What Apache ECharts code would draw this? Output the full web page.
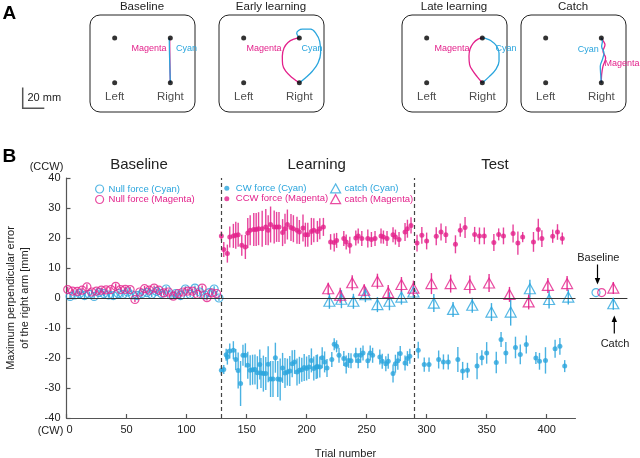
<!DOCTYPE html>
<html><head><meta charset="utf-8">
<script src="https://cdn.jsdelivr.net/npm/echarts@6/dist/echarts.min.js"></script>
<style>html,body{margin:0;padding:0;background:#fff}#c{width:640px;height:458px}</style>
</head><body><div id="c"></div>
<script>
const CYAN = '#2aa5dd', MAG = '#e3218b', INK = '#222', AX = '#555';
const FONT = '"Liberation Sans", Arial, sans-serif';

// ---------- Panel B data (trial, value [mm], error [mm]) ----------
const trialTicks = [0, 50, 100, 150, 200, 250, 300, 350, 400];
const yTicks = [-40, -30, -20, -10, 0, 10, 20, 30, 40];

const baseMagTrial = [1,5,9,13,17,21,25,29,33,37,41,45,49,53,57,61,65,69,73,77,81,85,89,93,97,101,105,109,113,117,121,125];
const baseMagVal = [2.8,2.3,2.2,2.6,3.7,2.0,2.3,2.6,2.7,2.8,3.9,2.8,2.9,2.8,-0.5,2.0,3.1,2.6,3.3,2.6,1.7,2.0,0.6,1.5,2.0,2.3,2.3,1.2,3.3,0.1,1.7,1.5];
const baseCyanTrial = [3,7,11,15,19,23,27,31,35,39,43,47,51,55,59,63,67,71,75,79,83,87,91,95,99,103,107,111,115,119,123,127];
const baseCyanVal = [0.5,1.0,1.5,0.8,1.2,0.5,1.8,1.5,1.0,0.8,1.5,1.2,2.0,1.0,0.8,1.5,1.8,1.2,2.2,1.5,3.0,1.0,1.5,0.8,3.0,1.2,3.3,2.0,1.0,1.8,3.0,0.0];
const baseErr = 0.9;

const magTrial = [129,131,134,136,139,141,143,146,149,151,153,156,158,160,163,166,168,170,173,175,177,180,182,184,187,189,192,194,197,199,201,204,206,209,211,214,
  220,223,225,231,233,236,241,243,246,251,254,257,262,264,267,272,274,277,282,284,287,
  292,296,300,308,312,316,324,328,332,340,344,348,356,360,364,372,376,380,389,393,396,405,409,413];
const magVal = [20.7,16.2,14.8,20.3,20.7,20.9,21.1,17.6,17.0,21.7,22.6,22.8,22.8,23.1,23.1,23.7,22.6,24.5,23.7,23.7,23.7,21.8,23.1,24.5,23.5,23.1,22.6,22.0,23.3,21.1,21.1,22.2,22.6,22.2,23.1,23.7,
  18.7,18.5,19.2,19.8,18.7,17.6,20.0,20.7,19.8,19.8,19.5,19.8,20.7,20.3,19.8,21.1,20.3,19.5,22.0,23.1,24.2,
  18.3,20.9,19.0,20.6,22.0,21.1,17.9,22.6,23.5,21.2,20.7,20.7,18.5,21.2,20.7,21.5,18.3,20.3,18.7,22.8,19.8,20.6,22.0,19.8];
const magErr = [1.5,2.5,3,3.5,4,4.5,4,3.5,4,5,5,5.5,5.5,5.5,6,6,5,6,5.5,5,5,4.5,5,5,4.5,4.5,4.5,4,4.5,4,4,4.5,4,3.5,3.5,3,
  2.6,3,2.5,2.5,2.5,2.8,2.5,2.5,2.5,3,2.5,2.5,2.5,2.2,2.5,2.5,2.5,2.5,3,3,2.7,
  2.8,2.8,2.8,3,2.8,2.8,3,2.2,3.5,2.5,2.8,2.8,2.8,2,2.8,3,3.9,1.7,3.3,3.6,2.8,2.2,2.6,2];

const cyanTrial = [129,131,133,134,136,139,141,143,145,147,149,151,153,155,157,159,161,162,164,166,168,170,172,174,176,178,180,182,184,186,188,190,192,194,196,198,200,202,204,206,208,209,211,213,215,217,
  221,223,225,227,231,233,235,237,241,243,245,247,251,253,255,261,263,266,268,272,274,276,278,282,284,286,
  293,298,302,310,314,318,326,330,334,342,346,350,358,362,366,374,378,383,391,394,399,407,411,415];
const cyanVal = [-24.1,-23.8,-18.9,-19.7,-17.7,-17.4,-20.5,-24.2,-28.5,-19.1,-19.1,-22.4,-24.1,-23.9,-23.8,-24.9,-22.2,-25.0,-25.2,-25.2,-22.1,-27.0,-27.0,-19.9,-27.0,-27.2,-23.3,-25.0,-24.7,-24.3,-21.9,-21.3,-24.7,-24.1,-23.9,-23.2,-23.5,-23.0,-20.8,-23.5,-23.0,-22.8,-23.0,-19.9,-21.3,-23.3,
  -20.5,-15.4,-16.1,-19.1,-20.2,-22.2,-20.8,-20.9,-19.1,-20.9,-19.1,-18.3,-20.9,-18.3,-19.1,-19.7,-21.1,-21.9,-21.1,-25.2,-21.9,-20.9,-18.5,-21.7,-20.2,-19.4,
  -17.4,-22.2,-22.2,-20.5,-21.3,-21.3,-20.5,-24.3,-24.1,-22.7,-19.9,-18.3,-21.5,-13.8,-18.3,-16.5,-18.8,-15.5,-20.0,-21.1,-20.8,-16.9,-16.1,-22.7];
const cyanErr = [1.5,1.5,2,2.5,2.5,3,3.5,6,7.5,3.5,4,4.5,5,5,5,5.5,5,5,6,5.5,6,6,6,5,6,7,5,5,4.5,5,4.5,4,4.5,4.5,4,4.5,4,4,4,4,4,4,3.5,3.5,3.5,3,
  2.5,2,2,2.5,2.5,3,2.5,2.5,2.5,2.5,2.5,2.5,2.5,2.5,2.5,2.5,2.5,2.5,2.5,3,3,3,2.5,2.5,2.5,2.5,
  2.8,2.4,2.4,3,2.5,2.5,4.2,3,2.5,4.4,2.5,3.6,3.6,2.5,3.6,3.6,3.3,3,2,2.8,4.4,3,2.8,2];

const catchMagTrial = [218,228,238,248,259,268,279,289,304,320,336,352,369,385,401,417];
const catchMagVal = [3.1,0.9,5.1,2.6,5.6,1.8,4.5,3.3,4.8,4.8,4.5,5.0,1.2,-1.3,4.2,4.8];
const catchMagErr = [2,2.5,2.5,2,2.5,2.5,2.5,2.5,3.5,3,3,3,2.5,2.5,2.5,2.5];
const catchCyanTrial = [219,229,239,249,259,269,279,289,306,322,338,354,370,386,402,418];
const catchCyanVal = [-1.1,-0.4,-1.1,1.1,-2.2,-1.1,0.3,2.0,-1.7,-3.8,-2.4,-4.7,-4.7,3.1,-0.5,0.3];
const catchCyanErr = [2.5,3,2.5,2.5,2.5,3,2.5,2,3,2.5,2.5,3,4.5,3,3,2.5];

// summary panel (right): Baseline circles and Catch triangles
const sumSlot = ['Baseline cyan', 'Baseline magenta', 'Catch'];
const sumSlotX = [6, 11.7, 23.3];
const sumBaseCyan = 1.8, sumBaseMag = 1.8, sumCatchMag = 3.3, sumCatchCyan = -1.9;
const sumCatchErr = 2;

// ---------- Panel A data (mm; right-bottom target at origin) ----------
const targetX = [-53, -53, 0, 0];
const targetY = [0, 43, 0, 43];
const targetName = ['Left', '', 'Right', ''];
const panelTitles = ['Baseline', 'Early learning', 'Late learning', 'Catch'];
const trajMag = [
  [[0,0],[-0.3,14],[-0.5,29],[-0.6,43]],
  [[0,0],[-6.7,4.8],[-13,11.1],[-15.9,17.5],[-16.2,25.4],[-14.6,33.3],[-10.8,38.7],[-5.1,41.9],[0,43]],
  [[0,0],[-4.8,5.7],[-9.5,12.1],[-12.1,17.5],[-12.7,25.4],[-11.7,32.4],[-8.6,38.1],[-4.1,41.9],[0,43]],
  [[0,0],[0.3,7.9],[1.6,15.9],[4.1,23.8],[1.6,30.2],[3.5,36.5],[1.6,40.6],[0,43]]
];
const trajCyan = [
  [[0,0],[-0.4,14],[-0.8,29],[-1,43]],
  [[0,0],[6,4.8],[12.4,11.1],[17.8,19],[20.3,28.6],[19.4,39.7],[15.6,47.6],[10.8,51.4],[2.9,51.4],[-2.5,47.6],[0,43]],
  [[0,0],[6.3,5.7],[12.7,12.7],[15.9,20.6],[15.9,28.6],[13.3,35.6],[7.9,40.6],[3.2,42.5],[0,43]],
  [[0,0],[-0.6,7.9],[-1,15.9],[1,22.2],[2.5,28.6],[0.3,34.9],[1,39.7],[0,43]]
];

// ---------- layout ----------
const MAIN = {left: 66.5, top: 178, width: 509, height: 240, outerBoundsMode: 'none'};
const MINI = {left: 590, top: 178, width: 37, height: 240, outerBoundsMode: 'none'};
const PANEL_LEFT = [90, 219, 402, 521];
const PANEL = {top: 15, width: 105, height: 97};

function zip(xs, ys, es) { return xs.map((x, i) => es === undefined ? [x, ys[i]] : [x, ys[i], Array.isArray(es) ? es[i] : es]); }

function errBars(name, data, color, xi, yi, opacity) {
  return {
    type: 'custom', name: name, xAxisIndex: xi, yAxisIndex: yi, silent: true, z: 2,
    data: data, encode: {x: 0, y: 1},
    renderItem: function (params, api) {
      const x = api.value(0), y = api.value(1), e = api.value(2);
      const a = api.coord([x, y - e]), b = api.coord([x, y + e]);
      return {type: 'line', shape: {x1: a[0], y1: a[1], x2: b[0], y2: b[1]},
        style: {stroke: color, lineWidth: 1.4, opacity: opacity}};
    }
  };
}

const grids = [MAIN, MINI].concat(PANEL_LEFT.map(l => ({left: l, top: PANEL.top, width: PANEL.width, height: PANEL.height, outerBoundsMode: 'none'})));

const xAxes = [
  {gridIndex: 0, type: 'value', min: 0, max: 424,
   axisLine: {show: true, onZero: false, lineStyle: {color: AX, width: 1.2}},
   axisTick: {show: true, inside: true, length: 4, customValues: trialTicks, lineStyle: {color: AX, width: 1.2}},
   axisLabel: {customValues: trialTicks, fontSize: 11, color: INK, margin: 6, alignMinLabel: 'left'},
   splitLine: {show: false},
   name: 'Trial number', nameLocation: 'middle', nameGap: 30,
   nameTextStyle: {fontSize: 11, color: INK, padding: [0, 0, 0, 49]}},
  {gridIndex: 1, type: 'value', min: 0, max: 37,
   axisLine: {show: true, onZero: true, lineStyle: {color: '#333', width: 1}},
   axisTick: {show: false}, axisLabel: {show: false}, splitLine: {show: false}}
].concat(PANEL_LEFT.map((l, i) => ({gridIndex: i + 2, type: 'value', min: -76.5, max: 23.5, show: false})));

const yAxes = [
  {gridIndex: 0, type: 'value', min: -40, max: 40, interval: 10,
   axisLine: {show: true, onZero: false, lineStyle: {color: AX, width: 1.2}},
   axisTick: {show: true, inside: true, length: 4, lineStyle: {color: AX, width: 1.2}},
   axisLabel: {fontSize: 11, color: INK, margin: 6},
   splitLine: {show: false},
   name: 'Maximum perpendicular error\nof the right arm [mm]', nameLocation: 'middle', nameGap: 35,
   nameTextStyle: {fontSize: 11, color: INK, lineHeight: 14}},
  {gridIndex: 1, type: 'value', min: -40, max: 40, show: false}
].concat(PANEL_LEFT.map((l, i) => ({gridIndex: i + 2, type: 'value', min: -28, max: 65, show: false})));

const openCircle = c => ({color: 'rgba(255,255,255,0)', borderColor: c, borderWidth: 1.2});
const openTri = c => ({color: 'rgba(255,255,255,0)', borderColor: c, borderWidth: 1.2});

const series = [
  errBars('eb-bc', zip(baseCyanTrial, baseCyanVal, baseErr), CYAN, 0, 0, 0.9),
  {type: 'scatter', name: 'Null force (Cyan)', xAxisIndex: 0, yAxisIndex: 0, symbol: 'circle', symbolSize: 8,
   itemStyle: openCircle(CYAN), data: zip(baseCyanTrial, baseCyanVal), z: 3,
   markLine: {silent: true, symbol: 'none', label: {show: false}, animation: false,
     data: [{yAxis: 0, lineStyle: {color: '#333', width: 1, type: 'solid'}},
            {xAxis: 128.5, lineStyle: {color: '#444', width: 1.2, type: [4, 3]}},
            {xAxis: 289.5, lineStyle: {color: '#444', width: 1.2, type: [4, 3]}}]}},
  errBars('eb-bm', zip(baseMagTrial, baseMagVal, baseErr), MAG, 0, 0, 0.9),
  {type: 'scatter', name: 'Null force (Magenta)', xAxisIndex: 0, yAxisIndex: 0, symbol: 'circle', symbolSize: 8,
   itemStyle: openCircle(MAG), data: zip(baseMagTrial, baseMagVal), z: 3},
  errBars('eb-c', zip(cyanTrial, cyanVal, cyanErr), CYAN, 0, 0, 0.85),
  {type: 'scatter', name: 'CW force (Cyan)', xAxisIndex: 0, yAxisIndex: 0, symbol: 'circle', symbolSize: 5,
   itemStyle: {color: CYAN}, data: zip(cyanTrial, cyanVal), z: 3},
  errBars('eb-m', zip(magTrial, magVal, magErr), MAG, 0, 0, 0.85),
  {type: 'scatter', name: 'CCW force (Magenta)', xAxisIndex: 0, yAxisIndex: 0, symbol: 'circle', symbolSize: 5,
   itemStyle: {color: MAG}, data: zip(magTrial, magVal), z: 3},
  errBars('eb-cc', zip(catchCyanTrial, catchCyanVal, catchCyanErr), CYAN, 0, 0, 0.9),
  {type: 'scatter', name: 'catch (Cyan)', xAxisIndex: 0, yAxisIndex: 0, symbol: 'triangle', symbolSize: [11, 10],
   itemStyle: openTri(CYAN), data: zip(catchCyanTrial, catchCyanVal), z: 3},
  errBars('eb-cm', zip(catchMagTrial, catchMagVal, catchMagErr), MAG, 0, 0, 0.9),
  {type: 'scatter', name: 'catch (Magenta)', xAxisIndex: 0, yAxisIndex: 0, symbol: 'triangle', symbolSize: [11, 10],
   itemStyle: openTri(MAG), data: zip(catchMagTrial, catchMagVal), z: 3},
  // summary panel
  {type: 'scatter', name: 'sum-base-cyan', xAxisIndex: 1, yAxisIndex: 1, symbol: 'circle', symbolSize: 8,
   itemStyle: openCircle(CYAN), data: [[sumSlotX[0], sumBaseCyan]]},
  {type: 'scatter', name: 'sum-base-mag', xAxisIndex: 1, yAxisIndex: 1, symbol: 'circle', symbolSize: 8,
   itemStyle: openCircle(MAG), data: [[sumSlotX[1], sumBaseMag]]},
  errBars('eb-sm', [[sumSlotX[2], sumCatchMag, sumCatchErr]], MAG, 1, 1, 0.9),
  errBars('eb-sc', [[sumSlotX[2], sumCatchCyan, sumCatchErr]], CYAN, 1, 1, 0.9),
  {type: 'scatter', name: 'sum-catch-mag', xAxisIndex: 1, yAxisIndex: 1, symbol: 'triangle', symbolSize: [11, 10],
   itemStyle: openTri(MAG), data: [[sumSlotX[2], sumCatchMag]]},
  {type: 'scatter', name: 'sum-catch-cyan', xAxisIndex: 1, yAxisIndex: 1, symbol: 'triangle', symbolSize: [11, 10],
   itemStyle: openTri(CYAN), data: [[sumSlotX[2], sumCatchCyan]]}
];

// panel A series
PANEL_LEFT.forEach((l, i) => {
  const ax = i + 2;
  series.push({type: 'line', name: 'mag-' + i, xAxisIndex: ax, yAxisIndex: ax, data: trajMag[i], smooth: 0.4,
    showSymbol: false, lineStyle: {color: MAG, width: 1.3}, itemStyle: {color: MAG}, z: 2, silent: true});
  series.push({type: 'line', name: 'cyan-' + i, xAxisIndex: ax, yAxisIndex: ax, data: trajCyan[i], smooth: 0.4,
    showSymbol: false, lineStyle: {color: CYAN, width: 1.3}, itemStyle: {color: CYAN}, z: 3, silent: true});
  series.push({type: 'scatter', name: 'targets-' + i, xAxisIndex: ax, yAxisIndex: ax, symbol: 'circle', symbolSize: 5,
    itemStyle: {color: '#000'}, z: 4, silent: true,
    data: targetX.map((x, k) => ({value: [x, targetY[k]], name: targetName[k]})),
    label: {show: true, position: 'bottom', distance: 6, formatter: p => p.name, fontSize: 11.5, color: INK}});
});

function legend(left, top, names, colors, icons, styles, h) {
  return {left: left, top: top, orient: 'vertical', itemWidth: 10, itemHeight: h, itemGap: 0.5,
    selectedMode: false, padding: 0,
    textStyle: {fontSize: 9.5, lineHeight: 10, padding: [0, 0, 0, -1]},
    data: names.map((n, i) => ({name: n, icon: icons[i], itemStyle: styles[i], textStyle: {color: colors[i]}}))};
}

const T = (text, x, y, size, opts) => Object.assign({type: 'text', silent: true,
  style: Object.assign({text: text, x: x, y: y, fontSize: size, fontFamily: FONT, fill: INK,
    textAlign: 'center', textVerticalAlign: 'middle'}, opts || {})});

const graphic = [
  T('A', 2.5, 14, 19, {textAlign: 'left', fontWeight: 'bold', fill: '#000'}),
  T('B', 2.5, 157, 19, {textAlign: 'left', fontWeight: 'bold', fill: '#000'}),
  {type: 'polyline', silent: true, shape: {points: [[22.7, 87.5], [22.7, 108.3], [44.3, 108.3]]}, style: {stroke: AX, lineWidth: 1.5, fill: null}},
  T('20 mm', 27.5, 98, 11, {textAlign: 'left'}),
  T('Magenta', 149, 49, 9, {fill: MAG}), T('Cyan', 176, 49, 9, {fill: CYAN, textAlign: 'left'}),
  T('Magenta', 264, 49, 9, {fill: MAG}), T('Cyan', 301.5, 49, 9, {fill: CYAN, textAlign: 'left'}),
  T('Magenta', 452, 49, 9, {fill: MAG}), T('Cyan', 495.5, 49, 9, {fill: CYAN, textAlign: 'left'}),
  T('Cyan', 588.3, 50, 9, {fill: CYAN}), T('Magenta', 604.5, 64, 9, {fill: MAG, textAlign: 'left'}),
  T('Baseline', 139, 164.5, 15), T('Learning', 316.7, 164.5, 15), T('Test', 495, 164.5, 15),
  T('(CCW)', 46.5, 166.5, 11), T('(CW)', 50.5, 430.5, 11),
  T('Baseline', 598.3, 257.7, 11),
  {type: 'line', silent: true, shape: {x1: 597.5, y1: 264.5, x2: 597.5, y2: 279}, style: {stroke: '#000', lineWidth: 1.2}},
  {type: 'polygon', silent: true, shape: {points: [[594.8, 278], [600.2, 278], [597.5, 284.5]]}, style: {fill: '#000'}},
  T('Catch', 615, 344, 11),
  {type: 'line', silent: true, shape: {x1: 614.3, y1: 333.5, x2: 614.3, y2: 321}, style: {stroke: '#000', lineWidth: 1.2}},
  {type: 'polygon', silent: true, shape: {points: [[611.6, 322], [617, 322], [614.3, 315.5]]}, style: {fill: '#000'}}
];
PANEL_LEFT.forEach((l, i) => {
  graphic.push({type: 'rect', silent: true, z: -1, shape: {x: l, y: PANEL.top, width: PANEL.width, height: PANEL.height, r: 10},
    style: {fill: null, stroke: '#222', lineWidth: 1}});
  graphic.push(T(panelTitles[i], l + PANEL.width / 2 - 0.5, 6.5, 11.5));
});

const option = {
  animation: false,
  backgroundColor: '#fff',
  textStyle: {fontFamily: FONT},
  grid: grids,
  xAxis: xAxes,
  yAxis: yAxes,
  legend: [
    legend(95, 184, ['Null force (Cyan)', 'Null force (Magenta)'], [CYAN, MAG], ['circle', 'circle'], [openCircle(CYAN), openCircle(MAG)], 8),
    legend(224.3, 183.3, ['CW force (Cyan)', 'CCW force (Magenta)'], [CYAN, MAG], ['circle', 'circle'], [{color: CYAN}, {color: MAG}], 5),
    legend(330, 183.3, ['catch (Cyan)', 'catch (Magenta)'], [CYAN, MAG], ['triangle', 'triangle'], [openTri(CYAN), openTri(MAG)], 9)
  ],
  graphic: graphic,
  series: series
};
const chart = echarts.init(document.getElementById('c'), null, {renderer: 'canvas'});
chart.setOption(option);
</script></body></html>
